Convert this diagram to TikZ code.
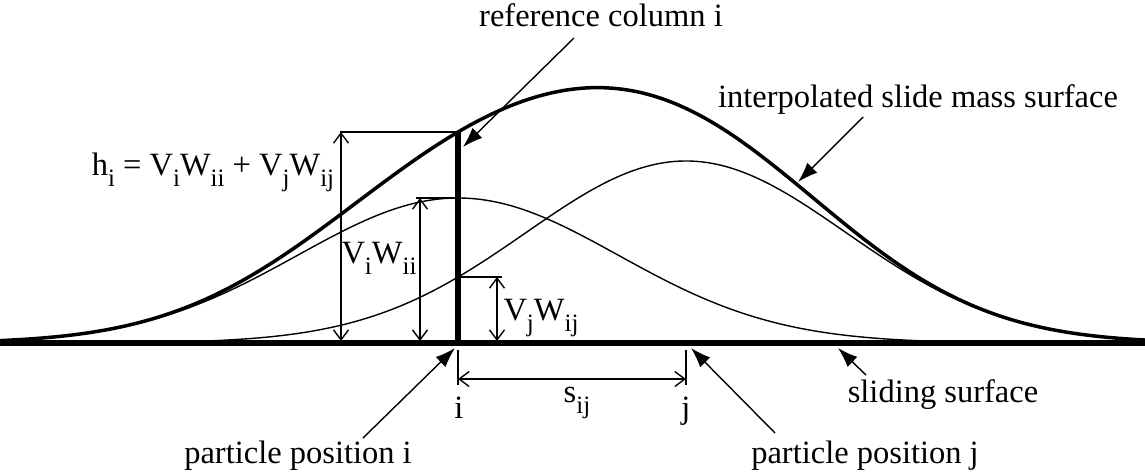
\documentclass[tikz,border=0pt]{standalone}
\usepackage{fontspec}
\setmainfont{Liberation Serif}
\usetikzlibrary{arrows.meta}
\newcommand\sbs[1]{\raisebox{-0.36em}{\fontsize{12.5pt}{14pt}\selectfont #1}}
\begin{document}
\begin{tikzpicture}[x=0.5pt,y=-0.5pt,
  declare function={gi(\x)=145*exp(-0.5*((\x-458)/160)^2);
                    gj(\x)=182*exp(-0.5*((\x-686)/160)^2);},
  lbl/.style={inner sep=0pt,anchor=base,font=\fontsize{16.25pt}{19pt}\selectfont},
  thincurve/.style={line width=0.7pt},
  thickcurve/.style={line width=1.75pt},
  ground/.style={line width=2.6pt},
  dimline/.style={line width=0.7pt},
  dimarrow/.style={line width=0.7pt,{Straight Barb[length=5pt,width=7.5pt]}-{Straight Barb[length=5pt,width=7.5pt]}},
  callout/.style={line width=0.7pt,-{Latex[length=10pt,width=7pt]}}]
\useasboundingbox (0,0) rectangle (1145,473);
% curves
\draw[thincurve] plot[domain=0:1145,samples=220] (\x,{343-gi(\x)});
\draw[thincurve] plot[domain=0:1145,samples=220] (\x,{343-gj(\x)});
\draw[thickcurve] plot[domain=0:1145,samples=220] (\x,{343-gi(\x)-gj(\x)});
% sliding surface
\coordinate (gl) at (0,343);
\coordinate (gr) at (1145,343);
\draw[ground] (gl) -- (gr);
% particle positions
\coordinate (pi) at (458,343);
\coordinate (pj) at (686,343);
\fill (pj) circle (3);
% reference column
\coordinate (ctop) at (458,132);
\draw[line width=2.6pt] (pi) -- (ctop);
% h_i dimension
\coordinate (hl) at (340,132);
\coordinate (ha) at (341,132);
\coordinate (hb) at (341,341);
\draw[dimline] (hl) -- (ctop);
\draw[dimarrow] (ha) -- (hb);
% V_iW_ii dimension
\coordinate (wil) at (416,198);
\coordinate (wir) at (458,198);
\coordinate (wia) at (420,198);
\coordinate (wib) at (420,341);
\draw[dimline] (wil) -- (wir);
\draw[dimarrow] (wia) -- (wib);
% V_jW_ij dimension
\coordinate (wjl) at (458,277);
\coordinate (wjr) at (502,277);
\coordinate (wja) at (497,277);
\coordinate (wjb) at (497,341);
\draw[dimline] (wjl) -- (wjr);
\draw[dimarrow] (wja) -- (wjb);
% s_ij dimension
\coordinate (ei1) at (458,350);
\coordinate (ei2) at (458,385);
\coordinate (ej1) at (686,350);
\coordinate (ej2) at (686,385);
\draw[dimline] (ei1) -- (ei2);
\draw[dimline] (ej1) -- (ej2);
\coordinate (sa) at (458,379);
\coordinate (sb) at (686,379);
\draw[dimarrow] (sa) -- (sb);
% labels
\node[lbl] (tref) at (601,26) {reference column i};
\node[lbl] (tint) at (918,107) {interpolated slide mass surface};
\node[lbl] (tsl) at (943,402) {sliding surface};
\node[lbl] (tpj) at (865,463) {particle position j};
\node[lbl] (tpi) at (298,463) {particle position i};
\node[lbl] (th) at (213,175) {h\sbs{i} = V\sbs{i}W\sbs{ii} + V\sbs{j}W\sbs{ij}};
\node[lbl] (twi) at (379,263) {V\sbs{i}W\sbs{ii}};
\node[lbl] (twj) at (541,320) {V\sbs{j}W\sbs{ij}};
\node[lbl] (ts) at (577,402) {s\sbs{ij}};
\node[lbl] (ti) at (459,418) {i};
\node[lbl] (tj) at (686,418) {j};
% callouts
\coordinate (r1) at (574,38);  \coordinate (r2) at (463,147);
\coordinate (i1) at (863,117); \coordinate (i2) at (798,182);
\coordinate (s1) at (866,375); \coordinate (s2) at (838,348);
\coordinate (j1) at (775,433); \coordinate (j2) at (691,348);
\coordinate (k1) at (363,438); \coordinate (k2) at (455,348);
\draw[callout] (r1) -- (r2);
\draw[callout] (i1) -- (i2);
\draw[callout] (s1) -- (s2);
\draw[callout] (j1) -- (j2);
\draw[callout] (k1) -- (k2);
\end{tikzpicture}
\end{document}
